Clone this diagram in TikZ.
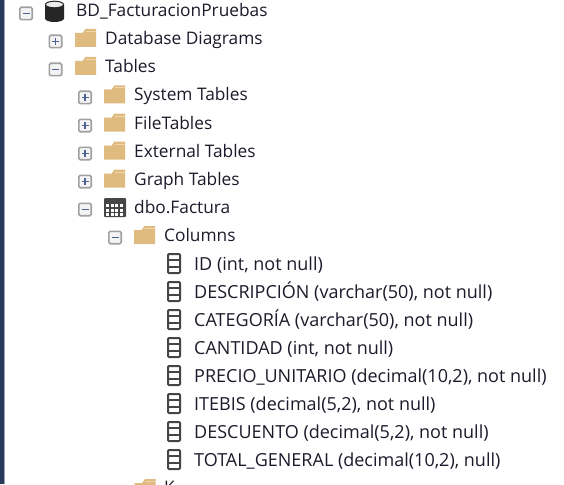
\documentclass[tikz,border=0pt]{standalone}
\usepackage{fontspec}
\setmainfont{Open Sans}
\definecolor{foldertan}{HTML}{DFBB80}
\definecolor{foldertab}{HTML}{EFD6A8}
\definecolor{iconink}{HTML}{454545}
\definecolor{boxedge}{HTML}{A0A0A0}
\definecolor{boxfill}{HTML}{F4F4F4}
\definecolor{signblue}{HTML}{4A6296}
\definecolor{rowink}{HTML}{1B1B2B}
\definecolor{stripnavy}{HTML}{2A3A5C}
\definecolor{stripedge}{HTML}{9AA3B5}
\tikzset{
    rowtext/.style = {anchor=base west, inner sep=0pt, text=rowink, font=\fontsize{17.3}{17.3}\selectfont},
    coltext/.style = {rowtext, font=\fontsize{18}{18}\selectfont},
    pics/minusbox/.style = {
        code = {
        \draw [boxedge, fill=boxfill, line width=1.6pt, rounded corners=1.5pt] (-6.2,-6.2) rectangle (6.2,6.2);
        \draw [signblue, line width=1.8pt] (-3.5,0) -- (3.5,0);
        }
    },
    pics/plusbox/.style = {
        code = {
        \draw [boxedge, fill=boxfill, line width=1.6pt, rounded corners=1.5pt] (-6.2,-6.2) rectangle (6.2,6.2);
        \draw [signblue, line width=1.8pt] (-3.5,0) -- (3.5,0);
        \draw [signblue, line width=1.8pt] (0,-3.5) -- (0,3.5);
        }
    },
    pics/folder/.style = {
        code = {
        \fill [foldertan] (-10.5,-5) -- (-3,-5) -- (0,-9) -- (10.5,-9) -- (10.5,9) -- (-10.5,9) -- cycle;
        \draw [foldertab, line width=1pt] (0.5,-6.5) -- (10,-6.5);
        }
    },
    pics/columnicon/.style = {
        code = {
        \draw [iconink, fill=white, line width=2pt, rounded corners=1pt] (-6,-9.5) rectangle (6,9.5);
        \foreach \rowy in {-3.2,3.2} {
            \draw [iconink, line width=1.8pt] (-6,\rowy) -- (6,\rowy);
        }
        }
    },
    pics/tableicon/.style = {
        code = {
        \fill [iconink, rounded corners=1pt] (-11,-9.5) rectangle (11,9.5);
        \foreach \celly in {-3.5,1,5.5} {
            \foreach \cellx in {-9,-4.5,0,4.5} {
                \fill [white] (\cellx,\celly) rectangle ++(3.4,3);
            }
        }
        }
    },
    pics/dbicon/.style = {
        code = {
        \fill [black!85] (-9.5,-7) -- (-9.5,7) arc [start angle=180, end angle=0, x radius=9.5, y radius=3.5] -- (9.5,-7) -- cycle;
        \draw [black!85, fill=black!8, line width=1pt] (0,-7) ellipse [x radius=9, y radius=3.3];
        }
    }
}
\begin{document}
\begin{tikzpicture}[x=1pt,y=-1pt]
    \useasboundingbox (0,0) rectangle (564,484);
    \clip (0,0) rectangle (564,484);
    \fill [white] (0,0) rectangle (564,484);
    \fill [stripnavy] (0,0) rectangle (3.5,484);
    \fill [stripedge] (3.5,0) rectangle (5,484);

    \path pic at (26,13.5) {minusbox};
    \path pic at (54.5,11.5) {dbicon};
    \node[rowtext] (dbname) at (76,17) {BD\_FacturacionPruebas};

    \path pic at (55.5,41.5) {plusbox};
    \path pic at (85.5,38) {folder};
    \node[rowtext] (diagrams) at (105,45) {Database Diagrams};

    \path pic at (55.5,69.5) {minusbox};
    \path pic at (85.5,66) {folder};
    \node[rowtext] (tables) at (105,73) {Tables};

    \path pic at (85,97.5) {plusbox};
    \path pic at (114.5,94.5) {folder};
    \node[rowtext] (systemtables) at (134,101) {System Tables};

    \path pic at (85,125.5) {plusbox};
    \path pic at (114.5,122.5) {folder};
    \node[rowtext] (filetables) at (134,129) {FileTables};

    \path pic at (85,153.5) {plusbox};
    \path pic at (114.5,150.5) {folder};
    \node[rowtext] (externaltables) at (134,157) {External Tables};

    \path pic at (85,181.5) {plusbox};
    \path pic at (114.5,178.5) {folder};
    \node[rowtext] (graphtables) at (134,185) {Graph Tables};

    \path pic at (85,209.5) {minusbox};
    \path pic at (115,207.5) {tableicon};
    \node[rowtext] (factura) at (134,213) {dbo.Factura};

    \path pic at (115,237.5) {minusbox};
    \path pic at (144.5,235) {folder};
    \node[rowtext] (columns) at (164,241) {Columns};

    \path pic at (174,263.5) {columnicon};
    \node[coltext] (colid) at (194,270) {ID (int, not null)};
    \path pic at (174,291.5) {columnicon};
    \node[coltext] (coldesc) at (194,298) {DESCRIPCIÓN (varchar(50), not null)};
    \path pic at (174,319.5) {columnicon};
    \node[coltext] (colcat) at (194,326) {CATEGORÍA (varchar(50), not null)};
    \path pic at (174,347.5) {columnicon};
    \node[coltext] (colcant) at (194,354) {CANTIDAD (int, not null)};
    \path pic at (174,375.5) {columnicon};
    \node[coltext] (colprecio) at (194,382) {PRECIO\_UNITARIO (decimal(10,2), not null)};
    \path pic at (174,403.5) {columnicon};
    \node[coltext] (colitebis) at (194,410) {ITEBIS (decimal(5,2), not null)};
    \path pic at (174,431.5) {columnicon};
    \node[coltext] (coldescuento) at (194,438) {DESCUENTO (decimal(5,2), not null)};
    \path pic at (174,459.5) {columnicon};
    \node[coltext] (coltotal) at (194,466) {TOTAL\_GENERAL (decimal(10,2), null)};

    % row cut off by the lower edge
    \path pic at (145,488) {folder};
    \node[rowtext] (keysrow) at (164,493) {K};
\end{tikzpicture}
\end{document}
